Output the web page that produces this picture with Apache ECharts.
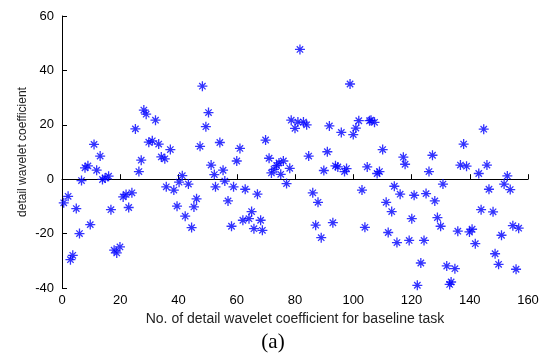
<!DOCTYPE html>
<html lang="en">
<head>
    <meta charset="utf-8">
    <title>detail wavelet coefficient</title>
    <script src="https://cdn.jsdelivr.net/npm/echarts@6/dist/echarts.min.js"></script>
    <style>
        html, body { margin: 0; padding: 0; background: #fff; }
    </style>
</head>
<body>
<div id="main" style="width:546px;height:355px;"></div>

<script type="text/javascript">

    // index of each coefficient
    var coefNo = [
        0.6, 2.1, 2.9, 3.7, 4.9, 6.0, 6.7, 7.9, 8.9, 9.7,
        11.0, 11.9, 13.1, 13.9, 14.8, 16.0, 16.8, 17.9, 18.8, 19.9,
        21.0, 22.0, 22.9, 24.0, 25.2, 26.4, 27.2, 28.1, 28.9, 29.8,
        31.0, 32.1, 33.2, 34.1, 35.3, 35.8, 37.2, 38.4, 39.5, 40.2,
        41.3, 42.3, 43.4, 44.5, 45.3, 46.2, 47.4, 48.2, 49.4, 50.3,
        51.2, 52.3, 52.7, 54.2, 55.3, 55.9, 57.0, 58.2, 58.9, 60.0,
        61.1, 62.1, 62.9, 64.2, 65.1, 65.9, 67.1, 68.2, 68.8, 69.9,
        71.1, 71.9, 72.8, 73.7, 74.5, 75.1, 76.0, 77.1, 78.2, 78.7,
        80.0, 81.0, 81.7, 82.9, 84.0, 84.7, 86.1, 87.1, 87.9, 89.0,
        89.9, 91.1, 91.8, 93.0, 93.9, 94.7, 95.9, 97.0, 97.7, 98.9,
        100.0, 100.9, 101.9, 103.0, 104.0, 104.8, 105.6, 106.1, 107.3, 108.2,
        109.0, 110.1, 111.3, 112.0, 113.2, 114.1, 115.0, 116.1, 117.2, 117.8,
        119.2, 120.1, 120.9, 122.0, 123.2, 124.3, 125.0, 126.0, 127.2, 128.0,
        128.9, 130.0, 130.8, 132.1, 133.1, 133.6, 134.9, 135.9, 136.8, 137.9,
        138.9, 139.9, 140.8, 141.9, 143.1, 143.9, 144.8, 145.9, 146.6, 148.0,
        148.7, 149.9, 150.9, 151.8, 152.9, 153.9, 154.8, 155.9, 156.8
    ];

    // coefficient value for each point
    var coefVal = [
        -8.7, -6.3, -29.6, -28.0, -10.8, -20.0, -0.5, 4.2, 4.9, -16.7,
        12.8, 3.3, 8.5, -0.1, 0.4, 1.1, -11.2, -26.1, -27.1, -24.9,
        -6.5, -5.6, -10.4, -5.0, 18.5, 2.8, 7.0, 25.4, 23.9, 13.6,
        14.1, 21.7, 12.9, 8.2, 7.5, -2.8, 10.9, -4.0, -9.9, -1.1,
        1.3, -13.6, -1.8, -17.8, -10.2, -7.2, 12.1, 34.2, 19.3, 24.5,
        5.2, 1.7, -2.8, 13.5, 3.3, -0.7, -8.0, -17.3, -2.8, 6.7,
        11.3, -15.1, -3.7, -14.5, -11.9, -18.2, -5.5, -15.1, -18.8, 14.4,
        7.7, 2.3, 3.6, 5.0, 6.0, 1.8, 6.7, -1.6, 4.0, 21.7,
        18.7, 21.0, 47.7, 21.0, 20.0, 8.5, -5.0, -16.9, -8.5, -21.5,
        3.2, 10.1, 19.6, -16.0, 4.9, 4.5, 17.2, 2.8, 3.9, 35.0,
        16.4, 18.8, 21.5, -4.0, -17.7, 4.5, 21.5, 21.7, 20.9, 2.1,
        2.8, 10.9, -8.5, -19.6, -11.9, -2.6, -23.3, -5.5, 8.1, 5.5,
        -22.5, -14.5, -5.9, -39.0, -30.8, -22.5, -5.3, 2.8, 8.8, -8.0,
        -14.1, -17.3, -1.8, -31.9, -38.7, -37.8, -32.9, -19.1, 5.2, 12.9,
        4.8, -19.4, -18.4, -23.7, 2.1, -11.2, 18.4, 5.2, -3.7, -12.0,
        -27.4, -31.3, -20.6, -1.8, 1.2, -3.8, -17.1, -33.1, -18.0
    ];

    var points = coefNo.map(function (x, i) { return [x, coefVal[i]]; });

    // MATLAB style '*' marker
    var starPath = 'path://M5,0L5,10M0,5L10,5M1.8,1.8L8.2,8.2M8.2,1.8L1.8,8.2';

    var myChart = echarts.init(document.getElementById('main'));

    myChart.setOption({
        animation: false,
        backgroundColor: '#fff',
        textStyle: { fontFamily: 'Liberation Sans, Arial, sans-serif' },
        grid: { left: 62, right: 18, top: 16, bottom: 67 },
        title: {
            text: '(a)',
            left: 'center',
            top: 327,
            textStyle: {
                fontFamily: 'Liberation Serif, Times New Roman, serif',
                fontSize: 21, fontWeight: 'normal', color: '#000'
            }
        },
        xAxis: {
            type: 'value',
            min: 0, max: 160, interval: 20,
            name: 'No. of detail wavelet coefficient for baseline task',
            nameLocation: 'middle',
            nameGap: 24,
            nameTextStyle: { fontSize: 14, color: '#222' },
            axisLine: { lineStyle: { color: '#000', width: 1 } },
            axisTick: { inside: true, length: 5, lineStyle: { color: '#000' } },
            axisLabel: { color: '#000', fontSize: 13, margin: 6 },
            splitLine: { show: false }
        },
        yAxis: {
            type: 'value',
            min: -40, max: 60, interval: 20,
            name: 'detail wavelet coefficient',
            nameLocation: 'middle',
            nameGap: 33,
            nameMoveOverlap: false,
            nameTextStyle: { fontSize: 12, color: '#222' },
            axisLine: { show: true, lineStyle: { color: '#000', width: 1 } },
            axisTick: { show: true, inside: true, length: 5, lineStyle: { color: '#000' } },
            axisLabel: { color: '#000', fontSize: 13, margin: 8 },
            splitLine: { show: false }
        },
        series: [{
            type: 'scatter',
            data: points,
            symbol: starPath,
            symbolSize: 10,
            itemStyle: { color: 'none', borderColor: '#0000ff', borderWidth: 1.3 }
        }]
    });

</script>
</body>
</html>
